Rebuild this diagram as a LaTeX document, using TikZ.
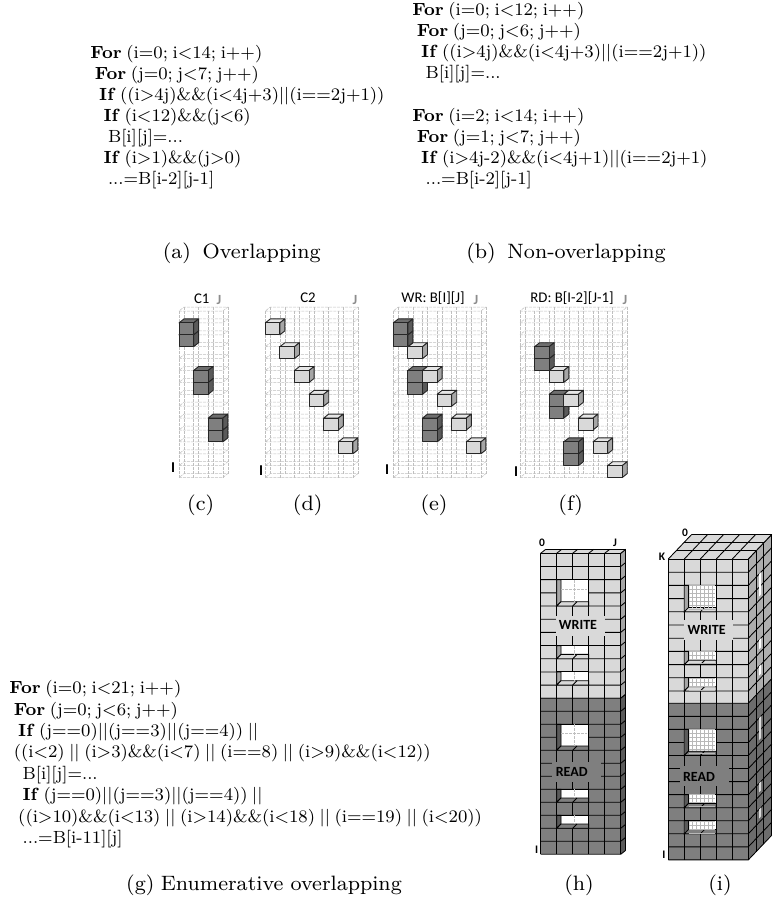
\documentclass[tikz,border=0pt]{standalone}
\usepackage{fontspec}
\usepackage{xcolor}
\usepackage{tikz}
\usetikzlibrary{positioning, calc}
\newfontfamily\labelfont{Carlito}

\definecolor{darkface}{HTML}{7F7F7F}
\definecolor{darktop}{HTML}{6E6E6E}
\definecolor{darkside}{HTML}{5A5A5A}
\definecolor{lightface}{HTML}{D9D9D9}
\definecolor{lighttop}{HTML}{E6E6E6}
\definecolor{lightside}{HTML}{A6A6A6}

\newcommand{\kw}[1]{\textbf{#1}}
\newcommand{\lt}{$<$}
\newcommand{\gt}{$>$}
\newcommand{\eqq}{$==$}
\newcommand{\oror}{$||$}

% dashed 3d grid behind the blocks
\newcommand{\panelgrid}[2]{
  \pgfmathsetmacro{\xend}{#1+#2*14.6}
  \foreach \rowno in {0,...,14} {
    \draw[gridline] (#1,311+\rowno*11.9) -- (\xend,311+\rowno*11.9) -- ++(5,-4) -- ++(-#2*14.6,0) -- cycle;
  }
  \foreach \colno in {0,...,#2} {
    \draw[gridline] (#1+\colno*14.6,311) -- ++(0,166.6);
    \draw[gridline] (#1+\colno*14.6+5,307) -- ++(0,166.6);
  }
}
\newcommand{\cubeat}[4]{
  \pgfmathsetmacro{\bx}{#1+#2*14.6}
  \pgfmathsetmacro{\by}{311+#3*11.9}
  \filldraw[cubeline, fill=#4top] (\bx,\by) -- ++(5,-4) -- ++(14.6,0) -- ++(-5,4) -- cycle;
  \filldraw[cubeline, fill=#4side] (\bx+14.6,\by) -- ++(5,-4) -- ++(0,11.9) -- ++(-5,4) -- cycle;
  \filldraw[cubeline, fill=#4face] (\bx,\by) rectangle ++(14.6,11.9);
}
% one colour section of a tower: x, top, row height, rows, face, side
\newcommand{\towerpart}[6]{
  \pgfmathsetmacro{\hh}{#3*#4}
  \fill[#5] (#1,#2) rectangle ++(80,\hh);
  \fill[#6] (#1+80,#2) -- ++(\dn*\dx,\dn*\dy) -- ++(0,\hh) -- ++(-\dn*\dx,-\dn*\dy) -- cycle;
  \foreach \rowno in {0,...,#4} {
    \draw[towerline] (#1,#2+\rowno*#3) -- ++(80,0) -- ++(\dn*\dx,\dn*\dy);
  }
  \foreach \colno in {0,...,5} {
    \draw[towerline] (#1+\colno*16,#2) -- ++(0,\hh);
  }
  \foreach \k in {1,...,\dn} {
    \draw[towerline] (#1+80+\k*\dx,#2+\k*\dy) -- ++(0,\hh);
  }
}
\newcommand{\towertop}[2]{
  \fill[lightface] (#1,#2) -- ++(\dn*\dx,\dn*\dy) -- ++(80,0) -- ++(-\dn*\dx,-\dn*\dy) -- cycle;
  \foreach \k in {0,...,\dn} {
    \draw[towerline] (#1+\k*\dx,#2+\k*\dy) -- ++(80,0);
  }
  \foreach \colno in {0,...,5} {
    \draw[towerline] (#1+\colno*16,#2) -- ++(\dn*\dx,\dn*\dy);
  }
}
% opening in a tower: x, top, bottom, tone
\newcommand{\holeat}[4]{
  \fill[white] (#1,#2) rectangle (#1+32,#3);
  \filldraw[towerline, fill=#4side] (#1,#2) -- (#1+4.3,#2) -- (#1+4.3,#3-4.3) -- (#1,#3) -- cycle;
  \filldraw[towerline, fill=#4face] (#1,#3) -- (#1+4.3,#3-4.3) -- (#1+32,#3-4.3) -- (#1+32,#3) -- cycle;
  \draw[towerline] (#1+16,#3) -- ++(4.3,-4.3);
  \draw[towerline] (#1,#2) -- (#1+32,#2) -- (#1+32,#3);
}
\newcommand{\holemesh}[3]{
  \foreach \m in {8,12,...,30} {
    \draw[meshline] (#1+\m,#2) -- (#1+\m,#3-4.3);
  }
  \pgfmathsetmacro{\ysec}{#2+4}
  \foreach \m in {#2,\ysec,...,#3} {
    \draw[meshline] (#1+4.3,\m) -- (#1+31,\m);
  }
}
\newcommand{\sideslot}[4]{
  \fill[#4] (#1+1.4*\dx,#2+1.4*\dy) -- ++(0.25*\dx,0.25*\dy) -- ++(0,#3-#2-4) -- ++(-0.25*\dx,-0.25*\dy) -- cycle;
}

\begin{document}
\begin{tikzpicture}[
    x=1pt, y=-1pt,
    code/.style={font=\fontsize{8}{9.55}\selectfont, execute at begin node={\spaceskip=.26em\relax}, scale=2.2, align=left, anchor=north west, inner sep=0pt},
    caption/.style={font=\fontsize{8}{9.1}\selectfont, scale=2.6, anchor=base, inner sep=0pt},
    gridline/.style={draw=black!25, line width=0.5pt, dash pattern=on 3pt off 1pt},
    cubeline/.style={draw=black!85, line width=0.9pt, line join=round},
    towerline/.style={draw=black, line width=0.85pt},
    meshline/.style={draw=black!28, line width=0.5pt},
    title/.style={font=\labelfont\fontsize{14.8}{15}\selectfont, inner sep=0pt},
    axisj/.style={font=\labelfont\bfseries\fontsize{14}{14}\selectfont, text=black!45, inner sep=0pt},
    axisi/.style={font=\labelfont\bfseries\fontsize{15}{15}\selectfont, inner sep=0pt},
    towerlabel/.style={font=\labelfont\bfseries\fontsize{11.5}{12}\selectfont, inner sep=0pt},
    patch/.style={inner sep=0pt, minimum height=20pt, minimum width=49pt},
    patchtext/.style={font=\labelfont\bfseries\fontsize{14}{14}\selectfont, inner sep=0pt}
]
\useasboundingbox (0,0) rectangle (775,903);

% code blocks
\node[code] (codea) at (90,45) {\kw{For} (i=0; i\lt14; i++)\\
  \hspace*{2pt}\kw{For} (j=0; j\lt7; j++)\\
  \hspace*{4pt}\kw{If} ((i\gt4j)\&\&(i\lt4j+3)\oror(i\eqq2j+1))\\
  \hspace*{6pt}\kw{If} (i\lt12)\&\&(j\lt6)\\
  \hspace*{8pt}B[i][j]=...\\
  \hspace*{6pt}\kw{If} (i\gt1)\&\&(j\gt0)\\
  \hspace*{8pt}...=B[i-2][j-1]};
\node[code] (codebw) at (412,2) {\kw{For} (i=0; i\lt12; i++)\\
  \hspace*{2pt}\kw{For} (j=0; j\lt6; j++)\\
  \hspace*{4pt}\kw{If} ((i\gt4j)\&\&(i\lt4j+3)\oror(i\eqq2j+1))\\
  \hspace*{6pt}B[i][j]=...};
\node[code] (codebr) at (412,108) {\kw{For} (i=2; i\lt14; i++)\\
  \hspace*{2pt}\kw{For} (j=1; j\lt7; j++)\\
  \hspace*{4pt}\kw{If} (i\gt4j-2)\&\&(i\lt4j+1)\oror(i\eqq2j+1)\\
  \hspace*{6pt}...=B[i-2][j-1]};
\node[code, font=\fontsize{8}{9.73}\selectfont] (codeg) at (9,680) {\kw{For} (i=0; i\lt21; i++)\\
  \hspace*{2pt}\kw{For} (j=0; j\lt6; j++)\\
  \hspace*{4pt}\kw{If} (j\eqq0)\oror(j\eqq3)\oror(j\eqq4)) \oror\\
  \hspace*{2pt}((i\lt2) \oror{} (i\gt3)\&\&(i\lt7) \oror{} (i\eqq8) \oror{} (i\gt9)\&\&(i\lt12))\\
  \hspace*{6pt}B[i][j]=...\\
  \hspace*{6pt}\kw{If} (j\eqq0)\oror(j\eqq3)\oror(j\eqq4)) \oror\\
  \hspace*{4pt}((i\gt10)\&\&(i\lt13) \oror{} (i\gt14)\&\&(i\lt18) \oror{} (i\eqq19) \oror{} (i\lt20))\\
  \hspace*{6pt}...=B[i-11][j]};

% panels c to f
\panelgrid{179}{3}
\panelgrid{265.3}{6}
\panelgrid{393.3}{6}
\panelgrid{520}{7}

\foreach \colno/\rowno in {0/2,0/1,1/6,1/5,2/10,2/9} {
  \cubeat{179}{\colno}{\rowno}{dark}
}
\foreach \colno/\rowno in {0/1,1/3,2/5,3/7,4/9,5/11} {
  \cubeat{265.3}{\colno}{\rowno}{light}
}
\foreach \colno/\rowno/\tone in {1/3/light,0/2/dark,0/1/dark,1/6/dark,1/5/dark,2/5/light,3/7/light,2/10/dark,2/9/dark,4/9/light,5/11/light} {
  \cubeat{393.3}{\colno}{\rowno}{\tone}
}
\foreach \colno/\rowno/\tone in {2/5/light,1/4/dark,1/3/dark,2/8/dark,2/7/dark,3/7/light,4/9/light,3/12/dark,3/11/dark,5/11/light,6/13/light} {
  \cubeat{520}{\colno}{\rowno}{\tone}
}

\node[title] (titlec) at (201.7,299) {C1};
\node[title] (titled) at (308,298) {C2};
\node[title] (titlee) at (433,298) {WR: B[I][J]};
\node[title] (titlef) at (572,298) {RD: B[I-2][J-1]};
\node[axisj] (jc) at (219,300) {J};
\node[axisj] (jd) at (355,300) {J};
\node[axisj] (je) at (476,300) {J};
\node[axisj] (jf) at (625,300) {J};
\node[axisi] (ic) at (173,468) {I};
\node[axisi] (id) at (261,471) {I};
\node[axisi] (ie) at (387,470) {I};
\node[axisi] (if) at (516,472) {I};

% tower h
\def\dn{1}\def\dx{5}\def\dy{-4}
\towerpart{540.7}{553.3}{13.18}{11}{lightface}{lightside}
\towerpart{540.7}{698.3}{13}{12}{darkface}{darkside}
\towertop{540.7}{553.3}
\foreach \ytop/\ybot in {579.7/606,645.6/658.7,671.9/685} {
  \holeat{556.7}{\ytop}{\ybot}{light}
  \draw[gridline] (574,\ytop) -- (574,\ybot-4.3);
}
\draw[gridline] (561,589) -- (587,589);
\foreach \ytop/\ybot in {724.3/750.3,789.3/802.3,815.3/828.3} {
  \holeat{556.7}{\ytop}{\ybot}{dark}
  \draw[gridline] (574,\ytop) -- (574,\ybot-4.3);
}
\draw[gridline] (561,733) -- (587,733);
\node[patch, fill=lightface] (patchwh) at (580.5,625.5) {};
\node[patchtext] (writeh) at (578,625) {WRITE};
\node[patch, fill=darkface] (patchrh) at (576.7,771.5) {};
\node[patchtext] (readh) at (571.7,771.5) {READ};
\node[towerlabel] (zeroh) at (542,543) {0};
\node[towerlabel] (jh) at (615,543) {J};
\node[towerlabel] (ih) at (536.7,850) {I};

% tower i
\def\dn{3}\def\dx{7.8}\def\dy{-8.2}
\towerpart{668.3}{559}{13.2}{11}{lightface}{lightface!80!black}
\towerpart{668.3}{703.3}{13.05}{12}{darkface}{darkface!85!black}
\towertop{668.3}{559}
\foreach \ytop/\ybot in {585.4/611.8,651.4/664.6,677.8/691} {
  \holeat{684.3}{\ytop}{\ybot}{light}
  \holemesh{684.3}{\ytop}{\ybot}
  \sideslot{748.3}{\ytop}{\ybot}{white}
}
\foreach \ytop/\ybot in {729.4/755.5,794.7/807.7,820.8/833.8} {
  \holeat{684.3}{\ytop}{\ybot}{dark}
  \holemesh{684.3}{\ytop}{\ybot}
  \sideslot{748.3}{\ytop}{\ybot}{lightface}
}
\node[patch, fill=lightface] (patchwi) at (708.3,630.3) {};
\node[patchtext] (writei) at (706.7,630) {WRITE};
\node[patch, fill=darkface] (patchri) at (704.5,776.3) {};
\node[patchtext] (readi) at (699,776.5) {READ};
\node[towerlabel] (zeroi) at (685,533) {0};
\node[towerlabel] (ki) at (662,556.7) {K};
\node[towerlabel] (ii) at (664,855) {I};

% captions
\node[caption] (capa) at (241.7,258) {(a)\hspace{4.5pt}Overlapping};
\node[caption] (capb) at (566,258) {(b)\hspace{4.5pt}Non-overlapping};
\node[caption] (capc) at (200.7,510) {(c)};
\node[caption] (capd) at (307.7,510) {(d)};
\node[caption] (cape) at (434,510) {(e)};
\node[caption] (capf) at (570.7,510) {(f)};
\node[caption] (capg) at (264,890) {(g)\hspace{2.5pt}Enumerative overlapping};
\node[caption] (caph) at (579,890) {(h)};
\node[caption] (capi) at (720,890) {(i)};
\end{tikzpicture}
\end{document}
